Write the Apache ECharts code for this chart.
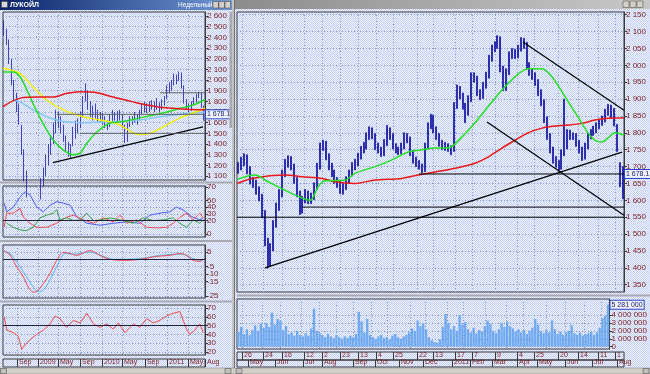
<!DOCTYPE html>
<html><head><meta charset="utf-8">
<script src="https://cdn.jsdelivr.net/npm/echarts@6.0.0/dist/echarts.min.js"></script>
<style>html,body{margin:0;padding:0;background:#c0c0c0;overflow:hidden}#c{width:650px;height:374px}</style>
</head><body><div id="c"></div>
<script>
// ================= DATA =================
const lastClose = 1678.1;

// ---- Left window (weekly, one bar per two weeks, index 0..81) ----
const leftLow = [2420,2330,2150,1950,1800,1700,1580,1300,1050,900,
  850,820,800,820,850,880,1000,1100,1200,1300,
  1400,1500,1550,1500,1420,1330,1280,1270,1380,1450,
  1500,1550,1650,1800,1720,1650,1620,1640,1600,1600,
  1580,1550,1530,1560,1600,1620,1600,1620,1550,1410,
  1420,1560,1580,1600,1580,1620,1680,1700,1690,1700,
  1720,1700,1720,1700,1720,1760,1820,1880,1900,1950,
  1960,1990,1920,1780,1720,1700,1710,1760,1790,1830,
  1740,1620];
const leftHigh = [2560,2480,2380,2200,2000,1880,1780,1580,1350,1150,
  1050,1000,950,980,1020,1080,1180,1300,1400,1480,
  1600,1720,1700,1660,1580,1480,1420,1400,1560,1620,
  1640,1700,1850,1970,1900,1800,1760,1780,1720,1700,
  1690,1660,1620,1680,1720,1700,1710,1720,1680,1580,
  1600,1660,1660,1700,1680,1720,1780,1790,1780,1800,
  1810,1800,1830,1790,1820,1850,1950,1980,2000,2060,
  2050,2080,2070,1950,1820,1780,1800,1840,1870,1890,
  1880,1760];
// moving averages [barIndex, value]
const leftMaYellow = [[-0.5,2110],[6.4,2060],[11.7,1935],[17.4,1810],[23.9,1720],[32,1655],[38.9,1625],[45.8,1590],[49.8,1540],[52.3,1505],[55.1,1490],[59.2,1500],[66.1,1580],[71.4,1645],[76.6,1690],[81.5,1735]];
const leftMaGreen = [[-0.5,2075],[3.6,2075],[6.4,2030],[9.2,1905],[11.7,1780],[15.7,1595],[19.8,1440],[23.9,1345],[27.9,1300],[30.8,1315],[33.6,1410],[37.7,1515],[42.9,1595],[48.2,1610],[55.1,1645],[60.4,1670],[66.1,1700],[71.4,1735],[76.6,1765],[81.5,1815]];
const leftMaRed = [[-0.5,1750],[6.4,1830],[14.5,1840],[19.8,1840],[25.5,1875],[30.8,1890],[37.7,1880],[44.2,1840],[52.3,1795],[58,1765],[63.2,1745],[68.5,1735],[74.2,1725],[81.5,1720]];
const leftMaBlue = [[4.4,1810],[6.4,1795],[11.7,1720],[17.4,1655],[23.9,1610],[32,1600],[38.9,1605],[45.8,1610],[55.1,1625],[63.2,1655],[71.4,1680],[81.5,1700]];
const leftTrend = [[19.8,1225],[80.7,1560]];
const leftLevelHigh = [[63.2,1880],[81.5,1880]];
const leftLevelLast = [[21.4,lastClose],[81.5,lastClose]];
const leftLevelLow = [[30.8,1500],[81.5,1500]];
// indicators
const adxLine = [[-0.04,46],[0.99,33],[3.7,40],[6.4,55],[8.4,63],[10.5,58],[13.2,40],[15.9,33],[18.6,43],[21.3,48],[24,46],[26.7,43],[29.4,26],[33.5,16],[38.9,13],[44.3,16],[49.7,18],[55.1,16],[59.1,28],[63.2,31],[67.2,33],[69.9,40],[72.6,36],[76,26],[79.4,21],[80.8,24]];
const plusDI = [[-0.04,10],[0.99,31],[3.7,31],[6.4,38],[7.8,25],[10.5,16],[13.2,10],[17.2,10],[21.3,16],[25.3,25],[28.1,28],[32.1,21],[36.2,16],[40.2,24],[44.3,18],[47,28],[49.7,16],[53.7,21],[57.8,10],[61.8,9],[65.9,10],[68.6,16],[71.3,25],[74,31],[76.7,21],[79.4,31],[80.8,24]];
const minusDI = [[0.99,16],[3.7,10],[6.4,6],[9.1,5],[11.8,10],[14.5,24],[17.2,28],[19.9,31],[21.3,36],[22.6,21],[25.3,24],[28.1,20],[30.8,21],[33.5,31],[36.2,20],[38.9,21],[43,24],[47,21],[52.4,16],[56.4,24],[60.5,20],[64.5,21],[68.6,24],[71.3,16],[74,10],[76.7,21],[79.4,16],[80.8,21]];
const macdLine = [[-0.04,6],[2.34,3],[5.04,-5],[7.8,-12],[9.8,-19],[11.8,-22.5],[13.8,-21],[15.9,-16.5],[18.6,-9.6],[21.3,-0.7],[24,4.8],[26.7,4],[29.4,2.7],[34.8,6],[38.9,2.7],[43,0],[49.7,-0.7],[55.1,0],[61.8,2],[67.2,2.7],[71.3,4],[74,2.7],[76.7,-0.7],[79.4,-1.4],[80.8,0]];
const macdSignal = [[-0.04,5],[2.34,4],[6.4,-5],[9.1,-12],[11.8,-19],[13.8,-22],[15.9,-21],[18.6,-14],[21.9,-3],[24.7,4],[28.1,3.5],[34.8,5],[40.2,2],[44.3,0],[55.1,0.5],[63.2,2.7],[68.6,3.5],[72.6,3.5],[76.7,0.5],[79.4,-0.7],[80.8,0]];
const rsiLine = [[-0.04,60],[0.99,45],[3.7,42],[5.7,38],[7.1,23],[8.4,28],[10.5,34],[13.2,40],[15.9,45],[18.6,52],[20.6,61],[22.6,58],[25.3,48],[28.1,56],[30.8,53],[33.5,64],[36.2,52],[38.9,48],[41.6,52],[44.3,46],[46.3,53],[49,42],[52.4,52],[55.1,48],[57.8,58],[60.5,53],[63.2,56],[65.9,61],[68.6,64],[71.3,66],[74,46],[75.3,40],[77.4,45],[79.4,52],[80.8,42]];
// tick labels
const leftPriceTicks = [1100,1200,1300,1400,1500,1600,1700,1800,1900,2000,2100,2200,2300,2400,2500,2600];
const adxTicks = [0,10,20,30,40,50,60,70];
const macdTicks = [-25,-20,-15,-10,-5,0,5];
const rsiTicks = [20,30,40,50,60,70];
const leftDateTicks = [5.18,13.7,21.8,30.8,39.7,47.8,57.1,66.1,74.6,81.5];
const leftDateLabels = ['Sep','2009','May','Sep','2010','May','Sep','2011','May','Aug'];

// ---- Right window (daily, one bar per ~2.4 sessions, index 0..132) ----
const rightLow = [1680,1690,1703,1678,1648,1638,1618,1598,1548,1465,
  1400,1405,1450,1520,1570,1610,1670,1698,1690,1650,
  1610,1558,1562,1592,1590,1590,1602,1632,1692,1748,
  1720,1690,1670,1650,1638,1620,1618,1632,1650,1672,
  1690,1702,1722,1740,1752,1780,1782,1750,1740,1730,
  1732,1762,1780,1752,1740,1735,1738,1752,1770,1732,
  1710,1700,1692,1682,1685,1752,1812,1800,1780,1760,
  1750,1748,1745,1735,1745,1872,1900,1870,1830,1852,
  1892,1950,1910,1898,1902,1932,1962,2012,2040,2050,
  1980,1925,1925,1972,2020,2020,2022,2042,2050,1990,
  1970,1958,1940,1910,1880,1830,1780,1740,1710,1698,
  1688,1692,1732,1752,1780,1780,1760,1740,1718,1722,
  1752,1782,1792,1800,1812,1822,1832,1852,1845,1820,
  1745,1640,1605];
const rightHigh = [1712,1728,1738,1735,1700,1668,1660,1640,1618,1570,
  1488,1472,1540,1592,1632,1690,1722,1732,1730,1708,
  1668,1628,1612,1632,1628,1622,1652,1710,1770,1778,
  1775,1738,1710,1690,1668,1658,1650,1670,1690,1712,
  1722,1740,1760,1772,1800,1818,1815,1798,1770,1758,
  1780,1822,1815,1798,1768,1758,1770,1800,1798,1788,
  1748,1728,1718,1708,1770,1830,1855,1852,1818,1798,
  1778,1772,1768,1762,1890,1942,1938,1918,1888,1910,
  1978,1978,1968,1928,1950,1980,2030,2060,2070,2088,
  2085,1998,1990,2040,2050,2048,2060,2082,2080,2068,
  2008,1990,1978,1958,1928,1898,1848,1798,1758,1730,
  1718,1750,1900,1810,1808,1800,1798,1778,1758,1770,
  1800,1810,1820,1830,1840,1850,1870,1884,1882,1872,
  1825,1712,1700];
// volume, thousands of shares
const rightVolume = [1900,2500,1600,2200,1500,2100,2700,2000,2900,2400,
  3000,2500,4300,2800,3500,3300,2100,2600,1600,1800,
  1400,2000,1500,1300,1700,1400,2300,4800,2000,1700,
  1500,1200,1600,1300,1100,1500,1200,1000,1300,1100,
  1400,1200,1600,4400,3200,1800,3500,1500,1200,1000,
  1300,1500,1100,1200,900,1400,1600,1200,1000,1300,
  1500,1800,2300,2000,3300,2600,2900,2200,1200,800,
  600,500,900,2500,4100,3000,2200,2600,2000,4000,
  2800,3100,2200,1800,2400,1700,2100,1900,2600,3300,
  2900,2000,1700,2200,3000,2500,3200,2600,2300,1900,
  2200,1800,2100,1600,2000,2400,3500,2800,2000,1700,
  2100,1800,3300,2200,1600,1900,1500,1800,2000,2700,
  1700,1500,1800,1400,1600,1700,1900,1500,1800,2400,
  3600,3900,5281];
const rightMaGreen = [[-0.5,1662],[5.69,1675],[10.15,1655],[18.4,1620],[24.59,1600],[27.34,1640],[29.74,1658],[36.62,1660],[40.05,1680],[46.93,1700],[52.77,1720],[58.27,1743],[63.08,1750],[67.55,1755],[72.02,1755],[76.83,1788],[81.3,1830],[85.76,1877],[90.57,1927],[95.04,1966],[99.51,1990],[104.32,1990],[107.76,1966],[112.23,1907],[116.69,1847],[120.13,1800],[122.53,1778],[124.94,1773],[127,1785],[129.41,1800],[132.5,1793]];
const rightMaRed = [[-0.5,1650],[4.65,1665],[16,1675],[21.84,1670],[28.71,1665],[33.18,1655],[40.05,1650],[46.93,1660],[56.2,1665],[61.7,1675],[67.55,1684],[74.42,1695],[81.3,1710],[85.76,1728],[90.57,1755],[95.04,1778],[99.51,1800],[104.32,1814],[108.79,1820],[113.26,1823],[118.07,1828],[122.53,1838],[127,1843],[132.5,1845]];
const rightTrendDown = [[97.79,2069],[132.5,1867]];
const rightTrendUp = [[9.12,1400],[131.8,1743]];
const rightTrendDown2 = [[85.42,1832],[132.5,1556]];
const rightLevelLast = [[62.05,lastClose],[132.5,lastClose]];
const rightLevelMid = [[21.84,1580],[132.5,1580]];
const rightLevelLow = [[-0.5,1550],[132.5,1550]];
const rightPriceTicks = [1350,1400,1450,1500,1550,1600,1650,1700,1750,1800,1850,1900,1950,2000,2050,2100,2150];
const volumeTicks = [0,1000,2000,3000,4000];
const dayTicks = [1.22,8.44,14.97,22.53,28.71,34.9,41.08,47.27,53.11,61.36,66.86,74.42,80.26,88.17,95.73,101.57,109.82,116.69,123.57,129.41];
const dayLabels = ['26','24','16','12','2','23','13','4','25','22','13','17','7','9','4','25','20','14','11','1'];
const monthTicks = [3.28,12.56,22.18,28.71,39.37,46.93,55.17,63.42,73.39,79.57,87.13,95.73,102.6,112.2,121.5,130.1];
const monthLabels = ['May','Jun','Jul','Aug','Sep','Oct','Nov','Dec','2011','Feb','Mar','Apr','May','Jun','Jul','Aug'];

// ================= CHART =================
const FONT = '"Liberation Sans", Arial, sans-serif';
const LBL = '#7a1c1c';
const GRIDC = '#8898c4';
const FRAME = '#3a3a3a';
const BAR = '#1c1ca4';
const fmt = v => String(v).replace(/\B(?=(\d{3})+(?!\d))/g, ' ');
const nL = leftLow.length, nR = rightLow.length;

function yAx(gi, min, max, ticks, f) {
  return {type:'value', gridIndex:gi, position:'right', min, max,
    axisLine:{show:true, onZero:false, lineStyle:{color:FRAME, width:1}},
    axisTick:{show:true, length:3, customValues:ticks, lineStyle:{color:FRAME}},
    axisLabel:{customValues:ticks, formatter:f, color:LBL, fontSize:8, margin:2, fontFamily:FONT,
      showMinLabel:true, showMaxLabel:true, hideOverlap:false},
    splitLine:{show:true, lineStyle:{color:GRIDC, type:[1,2], width:1}}};
}
function yDummy(gi){ return {type:'value', gridIndex:gi, show:false, min:0, max:1}; }
function xVal(gi, min, max, ticks) {
  return {type:'value', gridIndex:gi, position:'bottom', min, max,
    axisLine:{show:false}, axisTick:{show:false, customValues:ticks}, axisLabel:{show:false, customValues:ticks},
    splitLine:{show:true, lineStyle:{color:GRIDC, type:[1,2], width:1}}};
}
function xCat(gi, n) {
  return {type:'category', gridIndex:gi, position:'top', show:false, boundaryGap:true,
    data:Array.from({length:n}, (_, i) => i)};
}
function xLbl(gi, min, max, ticks, texts, len) {
  return {type:'value', gridIndex:gi, position:'bottom', min, max,
    axisLine:{show:false},
    axisTick:{show:true, inside:true, length:len, customValues:ticks, lineStyle:{color:FRAME}},
    axisLabel:{show:true, inside:true, customValues:ticks, align:'left', margin:1, padding:[0,0,0,2],
      fontSize:7, color:LBL, fontFamily:FONT, showMinLabel:true, showMaxLabel:true, hideOverlap:false,
      formatter: v => { const k = ticks.findIndex(t => Math.abs(t - v) < 0.01); return k >= 0 ? texts[k] : ''; }},
    splitLine:{show:false}};
}
function line(xi, yi, data, color, w, smooth, extra) {
  return Object.assign({type:'line', xAxisIndex:xi, yAxisIndex:yi, data, symbol:'none', showSymbol:false,
    smooth: smooth ? 0.3 : false, lineStyle:{color, width:w}, silent:true, clip:true, z:3, animation:false}, extra || {});
}
function hLine(yi, xi, val, color) {
  return {type:'line', xAxisIndex:xi, yAxisIndex:yi, data:[], silent:true,
    markLine:{silent:true, symbol:['none','none'], animation:false, label:{show:false},
      lineStyle:{color:color, type:'solid', width:1}, data:[{yAxis:val}]}};
}
const boxStyle = {padding:[1,1,0,1], backgroundColor:'#eef2ff', borderColor:'#2b45c8', borderWidth:1,
  color:'#1a1a60', fontSize:7, fontFamily:FONT};
const lastBox = Object.assign({show:true, formatter:() => fmt(lastClose), distance:1}, boxStyle);

// checker background pattern like the reference's dithering
const pc = document.createElement('canvas'); pc.width = 2; pc.height = 2;
const pcx = pc.getContext('2d');
pcx.fillStyle = '#f4f6ff'; pcx.fillRect(0,0,2,2);
pcx.fillStyle = '#bfcdf2'; pcx.fillRect(0,0,1,1); pcx.fillRect(1,1,1,1);
const bgFill = {image: pc, repeat: 'repeat'};

const gridBase = {show:true, borderColor:FRAME, borderWidth:1, backgroundColor:'transparent', containLabel:false};
const option = {
  animation:false,
  textStyle:{fontFamily:FONT},
  grid:[
    Object.assign({left:3, top:12, width:202, height:168}, gridBase),   // 0 left price
    Object.assign({left:3, top:186, width:202, height:51}, gridBase),   // 1 ADX
    Object.assign({left:3, top:245, width:202, height:53}, gridBase),   // 2 MACD
    Object.assign({left:3, top:305, width:202, height:50}, gridBase),   // 3 RSI
    Object.assign({left:3, top:359, width:202, height:8}, gridBase),    // 4 left dates
    Object.assign({left:237, top:12, width:387, height:280}, gridBase), // 5 right price
    Object.assign({left:237, top:299, width:387, height:50}, gridBase), // 6 volume
    Object.assign({left:237, top:352, width:387, height:8}, gridBase),  // 7 days
    Object.assign({left:237, top:360, width:387, height:7}, gridBase)   // 8 months
  ],
  xAxis:[
    xCat(0, nL),                                  // 0
    xVal(0, -0.5, nL - 0.5, leftDateTicks),       // 1
    xVal(1, -0.5, nL - 0.5, leftDateTicks),       // 2
    xVal(2, -0.5, nL - 0.5, leftDateTicks),       // 3
    xVal(3, -0.5, nL - 0.5, leftDateTicks),       // 4
    xLbl(4, -0.5, nL - 0.5, leftDateTicks, leftDateLabels, 8), // 5
    xCat(5, nR),                                  // 6
    xVal(5, -0.5, nR - 0.5, dayTicks),            // 7
    xCat(6, nR),                                  // 8
    xVal(6, -0.5, nR - 0.5, dayTicks),            // 9
    xLbl(7, -0.5, nR - 0.5, dayTicks, dayLabels, 8),     // 10
    xLbl(8, -0.5, nR - 0.5, monthTicks, monthLabels, 7)  // 11
  ],
  yAxis:[
    yAx(0, 1062.5, 2637.5, leftPriceTicks, fmt),
    yAx(1, -4.5, 71.5, adxTicks, v => String(v)),
    yAx(2, -26.4, 9.8, macdTicks, v => String(v)),
    yAx(3, 16.6, 73.4, rsiTicks, v => String(v)),
    yDummy(4),
    yAx(5, 1328.4, 2158, rightPriceTicks, fmt),
    yAx(6, -290, 6020, volumeTicks, v => v === 0 ? '0' : fmt(v * 1000)),
    yDummy(7),
    yDummy(8)
  ],
  series:[
    // ---- left price ----
    {type:'candlestick', xAxisIndex:0, yAxisIndex:0, barWidth:1.3, clip:true, silent:true,
      data:leftLow.map((l, i) => [l, leftHigh[i], l, leftHigh[i]]),
      itemStyle:{color:BAR, color0:BAR, borderColor:BAR, borderColor0:BAR, borderWidth:0.8}, z:2},
    line(1, 0, leftMaBlue, '#84c6f4', 1.5, true),
    line(1, 0, leftMaYellow, '#f2f000', 1.5, true),
    line(1, 0, leftMaGreen, '#22dd22', 1.5, true),
    line(1, 0, leftMaRed, '#e81818', 1.5, true),
    line(1, 0, leftTrend, '#000000', 1.2, false),
    line(1, 0, leftLevelHigh, '#606060', 1, false),
    line(1, 0, leftLevelLow, '#606060', 1, false),
    line(1, 0, leftLevelLast, '#606060', 1, false, {endLabel:lastBox}),
    // ---- ADX ----
    line(2, 1, adxLine, '#4b5cf2', 1, false),
    line(2, 1, plusDI, '#f04a4a', 1, false),
    line(2, 1, minusDI, '#3aa03a', 1, false),
    hLine(1, 2, 20, '#202040'),
    // ---- MACD ----
    line(3, 2, macdSignal, '#5cb4f0', 1, true),
    line(3, 2, macdLine, '#f04a4a', 1, true),
    hLine(2, 3, 0, '#202040'),
    // ---- RSI ----
    line(4, 3, rsiLine, '#f04a4a', 1, false),
    hLine(3, 4, 50, '#202040'),
    // ---- right price ----
    {type:'candlestick', xAxisIndex:6, yAxisIndex:5, barWidth:1.5, clip:true, silent:true,
      data:rightLow.map((l, i) => [l, rightHigh[i], l, rightHigh[i]]),
      itemStyle:{color:BAR, color0:BAR, borderColor:BAR, borderColor0:BAR, borderWidth:0.8}, z:2},
    line(7, 5, rightMaRed, '#e81818', 1.5, true),
    line(7, 5, rightMaGreen, '#22e022', 1.5, true),
    line(7, 5, rightTrendDown, '#000000', 1.2, false),
    line(7, 5, rightTrendUp, '#000000', 1.2, false),
    line(7, 5, rightTrendDown2, '#000000', 1.2, false),
    line(7, 5, rightLevelMid, '#000000', 1, false),
    line(7, 5, rightLevelLow, '#000000', 1, false),
    line(7, 5, rightLevelLast, '#000000', 1, false, {endLabel:lastBox}),
    // ---- volume ----
    {type:'bar', xAxisIndex:8, yAxisIndex:6, data:rightVolume, barWidth:2.4, silent:true,
      itemStyle:{color:'#72aaf0'},
      markPoint:{symbol:'rect', symbolSize:1, silent:true, itemStyle:{color:'transparent'},
        data:[{coord:[nR - 1, rightVolume[nR - 1]]}],
        label:Object.assign({show:true, position:'right', distance:2,
          formatter:() => fmt(rightVolume[nR - 1] * 1000)}, boxStyle)}}
  ],
  graphic:{elements:[
    {type:'rect', shape:{x:0, y:10, width:232, height:358}, style:{fill:bgFill}, z:-100, silent:true},
    {type:'rect', shape:{x:235, y:9, width:415, height:359}, style:{fill:bgFill}, z:-100, silent:true},
    // panel splitters
    {type:'rect', shape:{x:0, y:181.5, width:232, height:2}, style:{fill:'#a9a9b4'}, z:-50, silent:true},
    {type:'rect', shape:{x:0, y:240, width:232, height:2}, style:{fill:'#a9a9b4'}, z:-50, silent:true},
    {type:'rect', shape:{x:0, y:300.5, width:232, height:2}, style:{fill:'#a9a9b4'}, z:-50, silent:true},
    {type:'rect', shape:{x:237, y:294.5, width:413, height:2}, style:{fill:'#a9a9b4'}, z:-50, silent:true},
    // window separator
    {type:'rect', shape:{x:232, y:0, width:3, height:374}, style:{fill:'#c4c4c4'}, z:100, silent:true},
    {type:'line', shape:{x1:234.5, y1:0, x2:234.5, y2:374}, style:{stroke:'#707070', lineWidth:1}, z:100, silent:true},
    // left title bar
    {type:'rect', shape:{x:0, y:0, width:232, height:10},
      style:{fill:new echarts.graphic.LinearGradient(0,0,1,0,[{offset:0,color:'#0a246a'},{offset:1,color:'#6f95d2'}])}, z:100, silent:true},
    {type:'rect', shape:{x:1.5, y:1.5, width:6, height:6}, style:{fill:'#d8d8d8', stroke:'#404040', lineWidth:0.5}, z:101, silent:true},
    {type:'text', x:10, y:1.5, style:{text:'ЛУКОЙЛ', fill:'#ffffff', font:'bold 7px ' + FONT}, z:101, silent:true},
    {type:'text', x:178, y:1.8, style:{text:'Недельный', fill:'#ffffff', font:'6.5px ' + FONT}, z:101, silent:true},
    {type:'rect', shape:{x:213, y:1.5, width:5.5, height:6.5}, style:{fill:'#d4d0c8', stroke:'#404040', lineWidth:0.5}, z:101, silent:true},
    {type:'rect', shape:{x:219, y:1.5, width:5.5, height:6.5}, style:{fill:'#d4d0c8', stroke:'#404040', lineWidth:0.5}, z:101, silent:true},
    {type:'rect', shape:{x:225, y:1.5, width:5.5, height:6.5}, style:{fill:'#d4d0c8', stroke:'#404040', lineWidth:0.5}, z:101, silent:true},
    // right title bar (inactive)
    {type:'rect', shape:{x:235, y:0, width:415, height:9},
      style:{fill:new echarts.graphic.LinearGradient(0,0,1,0,[{offset:0,color:'#8c8c8c'},{offset:1,color:'#c8c8c8'}])}, z:100, silent:true},
    {type:'rect', shape:{x:623, y:1, width:6, height:6.5}, style:{fill:'#d4d0c8', stroke:'#404040', lineWidth:0.5}, z:101, silent:true},
    {type:'rect', shape:{x:630, y:1, width:6, height:6.5}, style:{fill:'#d4d0c8', stroke:'#404040', lineWidth:0.5}, z:101, silent:true},
    {type:'rect', shape:{x:637, y:1, width:6, height:6.5}, style:{fill:'#d4d0c8', stroke:'#404040', lineWidth:0.5}, z:101, silent:true},
    // left vertical scroll thumb
    {type:'rect', shape:{x:229.5, y:12, width:2.5, height:116}, style:{fill:'#a8a8b0'}, z:50, silent:true},
    // bottom scrollbar
    {type:'rect', shape:{x:0, y:368, width:650, height:6}, style:{fill:'#d4d0c8', stroke:'#808080', lineWidth:0.5}, z:100, silent:true},
    {type:'rect', shape:{x:0.5, y:368.5, width:6, height:5}, style:{fill:'#c0c0c0', stroke:'#404040', lineWidth:0.5}, z:101, silent:true},
    {type:'rect', shape:{x:225, y:368.5, width:6, height:5}, style:{fill:'#c0c0c0', stroke:'#404040', lineWidth:0.5}, z:101, silent:true},
    {type:'rect', shape:{x:236, y:368.5, width:6, height:5}, style:{fill:'#c0c0c0', stroke:'#404040', lineWidth:0.5}, z:101, silent:true},
    {type:'rect', shape:{x:643, y:368.5, width:6, height:5}, style:{fill:'#c0c0c0', stroke:'#404040', lineWidth:0.5}, z:101, silent:true}
  ]}
};
const chart = echarts.init(document.getElementById('c'), null, {renderer:'canvas', width:650, height:374});
chart.setOption(option);
</script></body></html>
